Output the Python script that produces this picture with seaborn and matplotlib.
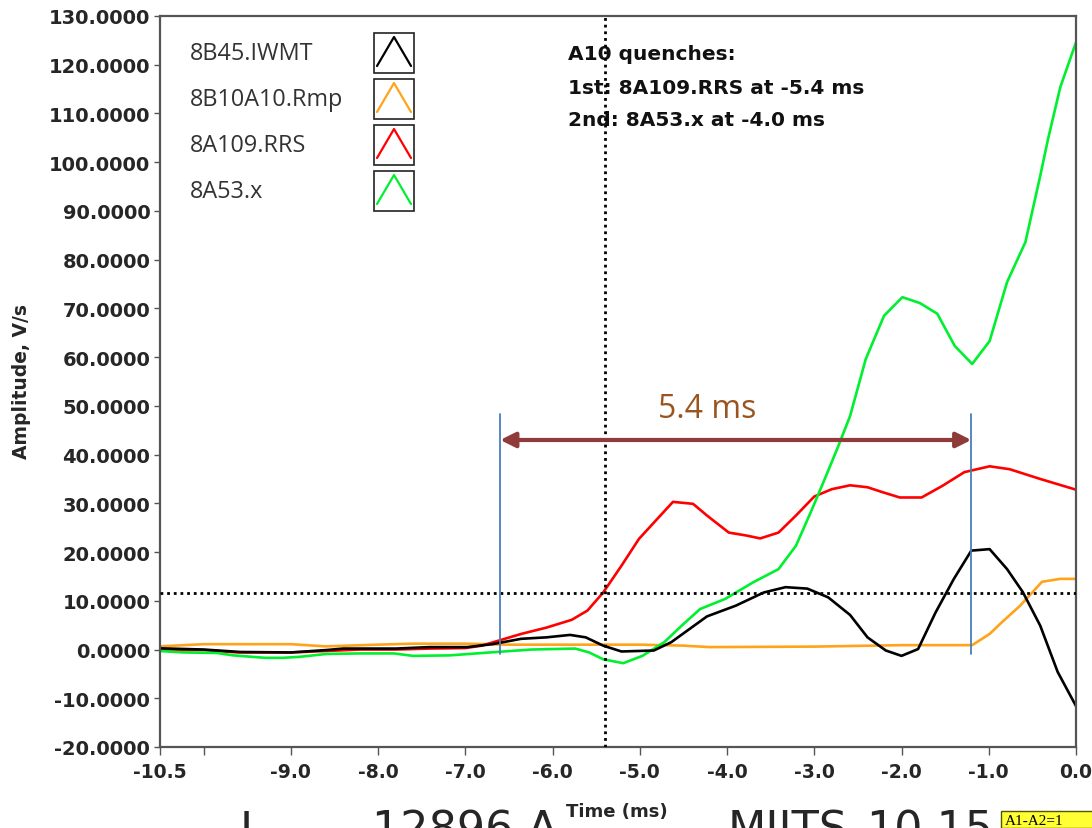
import numpy as np
import pandas as pd
import matplotlib
matplotlib.use("Agg")
import matplotlib.pyplot as plt
from matplotlib.patches import Rectangle
import seaborn as sns

# ---- waveform samples: time in ms, amplitude in V/s ----
t_iwmt = [-10.5, -10.0, -9.58, -9.0, -8.59, -8.4, -7.79, -7.41, -6.98, -6.69, -6.36, -6.07,
          -5.80, -5.62, -5.42, -5.21, -4.84, -4.64, -4.23, -3.90, -3.58, -3.33, -3.08, -2.84,
          -2.59, -2.39, -2.18, -2.00, -1.81, -1.61, -1.40, -1.20, -0.99, -0.79, -0.61, -0.41,
          -0.21, 0.0]
v_iwmt = [0.25, 0.0, -0.5, -0.6, -0.1, 0.2, 0.2, 0.5, 0.5, 1.1, 2.2, 2.5,
          3.0, 2.5, 0.8, -0.4, -0.2, 1.5, 6.8, 9.0, 11.7, 12.8, 12.5, 10.7,
          7.1, 2.5, -0.2, -1.3, 0.1, 7.6, 14.5, 20.3, 20.6, 16.5, 11.8, 4.9,
          -4.6, -11.6]

t_rmp = [-10.5, -10.0, -9.0, -8.6, -8.0, -7.6, -7.0, -6.5, -6.0, -5.4, -5.0, -4.5,
         -4.2, -3.0, -2.0, -1.5, -1.19, -0.99, -0.85, -0.64, -0.39, -0.18, 0.0]
v_rmp = [0.65, 1.1, 1.1, 0.65, 1.0, 1.2, 1.2, 1.0, 1.0, 1.0, 1.0, 0.8,
         0.5, 0.6, 0.9, 0.9, 0.9, 3.2, 5.6, 9.0, 13.9, 14.5, 14.5]

t_rrs = [-10.5, -10.0, -9.6, -9.0, -8.6, -8.2, -7.8, -7.4, -7.0, -6.81, -6.68, -6.36,
         -6.07, -5.78, -5.60, -5.42, -5.21, -5.01, -4.80, -4.62, -4.39, -4.23, -3.98, -3.78,
         -3.62, -3.41, -3.21, -3.00, -2.80, -2.59, -2.39, -2.22, -2.02, -1.77, -1.53, -1.28,
         -0.99, -0.76, -0.41, 0.0]
v_rrs = [-0.2, -0.1, -0.6, -0.6, -0.3, 0.0, 0.0, 0.2, 0.3, 0.8, 1.5, 3.2,
         4.5, 6.1, 8.0, 11.7, 17.2, 22.7, 26.8, 30.3, 29.9, 27.5, 24.0, 23.4,
         22.8, 24.0, 27.5, 31.4, 32.9, 33.7, 33.3, 32.3, 31.2, 31.2, 33.6, 36.4,
         37.6, 37.0, 35.0, 32.8]

t_x = [-10.5, -10.23, -9.85, -9.66, -9.3, -9.09, -8.9, -8.59, -8.2, -7.82, -7.6, -7.18,
       -6.72, -6.24, -5.74, -5.58, -5.42, -5.19, -4.97, -4.72, -4.52, -4.31, -4.02, -3.70,
       -3.41, -3.21, -3.04, -2.88, -2.73, -2.59, -2.41, -2.20, -1.99, -1.79, -1.59, -1.39,
       -1.19, -0.99, -0.79, -0.58, -0.41, -0.32, -0.18, 0.0]
v_x = [-0.3, -0.6, -0.7, -1.2, -1.7, -1.7, -1.5, -0.9, -0.8, -0.8, -1.3, -1.2,
       -0.6, 0.0, 0.2, -0.6, -2.0, -2.8, -1.3, 1.5, 4.9, 8.3, 10.4, 13.8,
       16.5, 21.3, 28.2, 35.0, 41.5, 47.9, 59.6, 68.5, 72.3, 71.1, 68.9, 62.3,
       58.6, 63.3, 75.4, 83.6, 97.2, 104.8, 115.4, 124.6]

signal_names = ["8B45.IWMT", "8B10A10.Rmp", "8A109.RRS", "8A53.x"]
signal_colors = ["#000000", "#FFA31A", "#FF0000", "#00F030"]
draw_order = ["8B10A10.Rmp", "8A109.RRS", "8A53.x", "8B45.IWMT"]

# cursor / marker values
cursor_time = -5.4
cursor_level = 11.5
quench_start = -6.6
quench_delay = 5.4
quench_end = quench_start + quench_delay
arrow_level = 43.0
marker_low, marker_high = -0.9, 48.3
delay_label_pos = (-4.23, 49.4)

y_ticks = list(range(-20, 131, 10))
x_ticks = [-10.5, -10.0, -9.0, -8.0, -7.0, -6.0, -5.0, -4.0, -3.0, -2.0, -1.0, 0.0]
x_ticklabels = ["-10.5", "", "-9.0", "-8.0", "-7.0", "-6.0", "-5.0", "-4.0", "-3.0", "-2.0", "-1.0", "0.0"]

# ---- long-form table ----
series = {
    "8B45.IWMT": (t_iwmt, v_iwmt),
    "8B10A10.Rmp": (t_rmp, v_rmp),
    "8A109.RRS": (t_rrs, v_rrs),
    "8A53.x": (t_x, v_x),
}
df = pd.concat(
    [pd.DataFrame({"Time (ms)": t, "Amplitude": v, "Signal": name})
     for name, (t, v) in series.items()],
    ignore_index=True,
)

sns.set_style("white")
plt.rcParams["font.family"] = ["DejaVu Sans"]

W, H = 1092, 829
fig = plt.figure(figsize=(W / 100, H / 100), dpi=100)
L, R, T, B = 160, 1076, 17, 748
ax = fig.add_axes([L / W, 1 - B / H, (R - L) / W, (B - T) / H])


def axf(px, py):
    """Pixel position inside the plot frame -> axes fraction."""
    return (px - L) / (R - L), (B - py) / (B - T)


sns.lineplot(
    data=df, x="Time (ms)", y="Amplitude", hue="Signal",
    hue_order=draw_order, palette=dict(zip(signal_names, signal_colors)),
    estimator=None, sort=False, linewidth=1.9, legend=False, ax=ax,
)

ax.set_xlim(-10.5, 0.0)
ax.set_ylim(-20, 130)

# cursors
ax.axvline(cursor_time, color="black", lw=2, linestyle=(0, (1, 1.4)), zorder=5)
ax.axhline(cursor_level, color="black", lw=2, linestyle=(0, (1, 1.4)), zorder=5)

# quench delay markers
for tq in (quench_start, quench_end):
    ax.plot([tq, tq], [marker_low, marker_high], color="#4A7EBB", lw=1.3, zorder=6)
ax.annotate(
    "", xy=(quench_end, arrow_level), xytext=(quench_start, arrow_level),
    arrowprops=dict(arrowstyle="<|-|>,head_length=0.9,head_width=0.45",
                    color="#8E3B39", lw=3, shrinkA=0, shrinkB=0),
    zorder=7,
)
ax.text(*delay_label_pos, f"{quench_delay} ms",
        family="Open Sans", fontsize=23, color="#9B5420", ha="center", va="center")

# axis styling
for sp in ax.spines.values():
    sp.set_color("#555555")
    sp.set_linewidth(1.6)
ax.set_yticks(y_ticks)
ax.set_yticklabels([f"{v:.4f}" for v in y_ticks])
ax.set_xticks(x_ticks)
ax.set_xticklabels(x_ticklabels)
ax.tick_params(axis="y", direction="out", length=4, width=1, color="#555555",
               pad=3, labelsize=14, left=True)
ax.tick_params(axis="x", direction="out", length=6, width=1, color="#555555",
               pad=5, labelsize=13.5, bottom=True)
for lab in ax.get_xticklabels() + ax.get_yticklabels():
    lab.set_fontweight("bold")

ax.set_xlabel("Time (ms)", fontsize=13, fontweight="bold")
ax.xaxis.set_label_coords(*axf(617, 812))
ax.xaxis.label.set_va("center")
ax.set_ylabel("Amplitude, V/s", fontsize=13.5, fontweight="bold")
ax.yaxis.set_label_coords(*axf(22, 382))
ax.yaxis.label.set_va("center")

# legend block
legend_y = [54, 100, 146, 192]
for name, color, py in zip(signal_names, signal_colors, legend_y):
    tx, ty = axf(190, py)
    ax.text(tx, ty, name, transform=ax.transAxes, family="Open Sans",
            fontsize=16.8, color="#333333", ha="left", va="center")
    bx, by = axf(374, py + 20)
    bw = 40 / (R - L)
    bh = 40 / (B - T)
    ax.add_patch(Rectangle((bx, by), bw, bh, transform=ax.transAxes,
                           facecolor="white", edgecolor="#222222", lw=1.2, zorder=8))
    cx = [axf(377, 0)[0], axf(394, 0)[0], axf(411, 0)[0]]
    cy = [axf(0, py + 13)[1], axf(0, py - 16)[1], axf(0, py + 13)[1]]
    ax.plot(cx, cy, transform=ax.transAxes, color=color, lw=1.6, zorder=9)

# quench summary
notes = ["A10 quenches:", "1st: 8A109.RRS at -5.4 ms", "2nd: 8A53.x at -4.0 ms"]
for line, py in zip(notes, [55, 88, 120]):
    nx, ny = axf(568, py)
    ax.text(nx, ny, line, transform=ax.transAxes, fontsize=14.5,
            fontweight="bold", color="#111111", ha="left", va="center", zorder=4)

# slide caption running below the plot
caption_color = "#262626"
for px, txt in [(240, "I"), (372, "12896 A"), (728, "MIITS"), (866, "10.15")]:
    fig.text(px / W, 1 - 810 / H, txt, fontsize=32, color=caption_color,
             ha="left", va="top")
fig.patches.append(Rectangle((1001 / W, 0), 100 / W, 17 / H, transform=fig.transFigure,
                             facecolor="#FFFF33", edgecolor="#555500", lw=1))
fig.text(1005 / W, 1 - 815 / H, "A1-A2=1", family="Liberation Serif", fontsize=11,
         color="black", ha="left", va="top")

fig.savefig("out.png", dpi=100)
